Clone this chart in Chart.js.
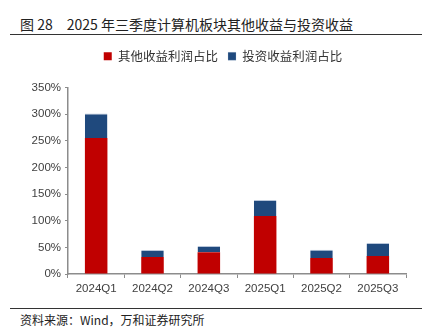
<!DOCTYPE html>
<html>
<head>
<meta charset="utf-8">
<script src="https://cdn.jsdelivr.net/npm/chart.js@4/dist/chart.umd.min.js"></script>
<style>
  html, body { margin: 0; padding: 0; background: #fff; }
  body { width: 434px; height: 333px; position: relative; overflow: hidden; font-family: "Noto Sans CJK SC", sans-serif; color: #222; }
  .title { position: absolute; left: 20px; top: 15px; font-size: 14px; line-height: 18px; white-space: nowrap; }
  .title .no { margin-right: 14px; }
  .rule-top { position: absolute; left: 10px; top: 34px; width: 412px; height: 0; border-top: 1.2px solid #333; }
  .rule-bottom { position: absolute; left: 10px; top: 308px; width: 412px; height: 0; border-top: 1px solid #333; }
  .source { position: absolute; left: 20px; top: 312px; font-size: 12px; line-height: 16px; white-space: nowrap; }
  .wrap { position: absolute; left: 0; top: 40px; width: 434px; height: 262px; }
</style>
</head>
<body>
<div class="title"><span class="no">图 28</span>2025 年三季度计算机板块其他收益与投资收益</div>
<div class="rule-top"></div>
<div class="wrap"><canvas id="chart"></canvas></div>
<div class="rule-bottom"></div>
<div class="source">资料来源：Wind，万和证券研究所</div>
<script>
// 数据
const quarters = ['2024Q1', '2024Q2', '2024Q3', '2025Q1', '2025Q2', '2025Q3'];
const otherIncome = [255, 32, 41, 109, 30, 34];      // 其他收益利润占比 (%)
const investIncome = [46, 13, 11.5, 30, 15.5, 24];  // 投资收益利润占比 (%)
const yTicks = [0, 50, 100, 150, 200, 250, 300, 350];

const axisGrey = '#8c8c8c';
const tickFont = { family: '"Liberation Sans", Arial, sans-serif', size: 11.5 };

// 图例下方留空，并按绘图区居中
const legendGap = {
    id: 'legendGap',
    beforeInit(chart) {
        const fit = chart.legend.fit;
        chart.legend.fit = function () {
            fit.bind(chart.legend)();
            this.height += 15;
        };
    },
    afterLayout(chart) {
        chart.legend.left += 40;
    }
};

new Chart(document.getElementById('chart'), {
    type: 'bar',
    data: {
        labels: quarters,
        datasets: [{
            label: '其他收益利润占比',
            data: otherIncome,
            backgroundColor: '#c00000',
            borderWidth: 0,
            barPercentage: 0.4,
            categoryPercentage: 1
        }, {
            label: '投资收益利润占比',
            data: investIncome,
            backgroundColor: '#1f497d',
            borderColor: '#b8c6da',
            borderWidth: { top: 1 },
            borderSkipped: 'bottom',
            barPercentage: 0.4,
            categoryPercentage: 1
        }]
    },
    plugins: [legendGap],
    options: {
        responsive: true,
        maintainAspectRatio: false,
        animation: false,
        layout: { padding: { left: 0, right: 28, top: 0, bottom: 0 } },
        plugins: {
            legend: {
                position: 'top',
                labels: {
                    boxWidth: 8,
                    boxHeight: 8,
                    padding: 10,
                    color: '#333',
                    font: { family: '"Noto Sans CJK SC", sans-serif', size: 12.5 }
                }
            },
            tooltip: { enabled: false }
        },
        scales: {
            x: {
                stacked: true,
                grid: { display: true, drawOnChartArea: false, color: axisGrey, tickLength: 4, offset: true },
                border: { display: true, color: axisGrey, width: 1.5 },
                ticks: { color: '#404040', font: tickFont, padding: 4, maxRotation: 0 },
                afterFit: (scale) => { scale.height = 28; }
            },
            y: {
                stacked: true,
                min: 0,
                max: 350,
                afterBuildTicks: (scale) => { scale.ticks = yTicks.map(v => ({ value: v })); },
                grid: { display: true, drawOnChartArea: false, color: axisGrey, tickLength: 3 },
                border: { display: true, color: axisGrey, width: 1.5 },
                ticks: {
                    color: '#404040',
                    font: tickFont,
                    padding: 4,
                    callback: (v) => v + '%'
                },
                afterFit: (scale) => { scale.width = 68; }
            }
        }
    }
});
</script>
</body>
</html>
